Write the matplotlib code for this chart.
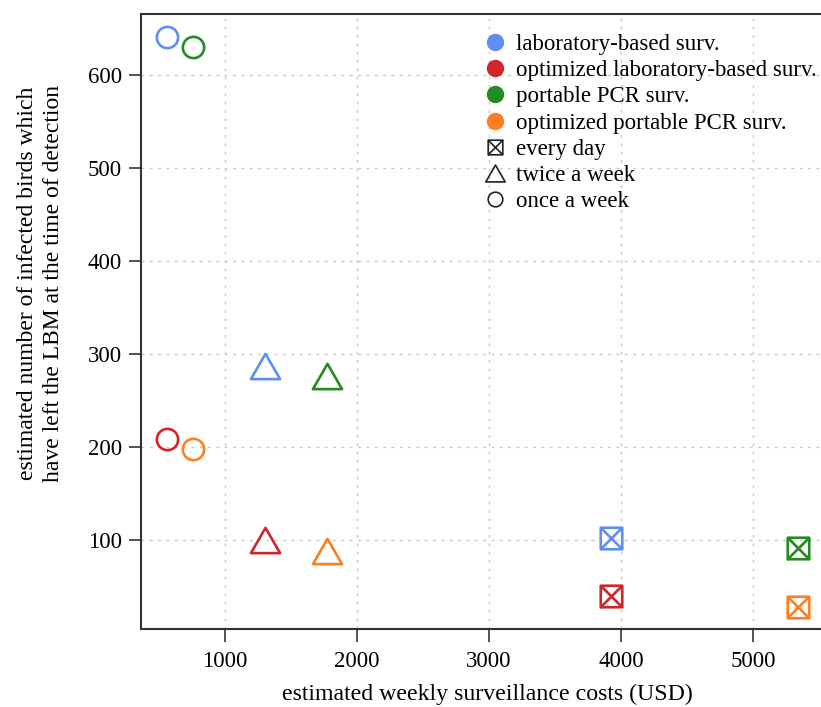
import matplotlib
matplotlib.use("Agg")
import matplotlib.pyplot as plt
from matplotlib.path import Path
from matplotlib.lines import Line2D

plt.rcParams['font.family'] = ['Liberation Serif', 'DejaVu Serif']

strategies = ["laboratory-based surv.", "optimized laboratory-based surv.",
              "portable PCR surv.", "optimized portable PCR surv."]
colors = ["#5f8fee", "#d0262b", "#228b22", "#ff7f1e"]
frequencies = ["every day", "twice a week", "once a week"]

# costs (USD) per strategy, order: every day, twice a week, once a week
costs = [
    [3925, 1305, 562],
    [3925, 1305, 562],
    [5335, 1775, 758],
    [5335, 1775, 758],
]
birds = [
    [102, 287, 641],
    [40, 100, 209],
    [91, 276, 630],
    [28, 88, 198],
]

box_x = Path([(-1, -1), (1, -1), (1, 1), (-1, 1), (-1, -1), (1, 1), (-1, 1), (1, -1)],
             [Path.MOVETO, Path.LINETO, Path.LINETO, Path.LINETO, Path.LINETO,
              Path.LINETO, Path.MOVETO, Path.LINETO])
tri = Path([(-1, -0.866), (1, -0.866), (0, 0.866), (-1, -0.866)],
           [Path.MOVETO, Path.LINETO, Path.LINETO, Path.CLOSEPOLY])
markers = [box_x, tri, "o"]
msizes = [15.5, 21, 15.3]

fig = plt.figure(figsize=(8.21, 7.07), dpi=100)
ax = fig.add_axes([0.1717, 0.1103, 0.836, 0.8700])

for i in range(4):
    for j in range(3):
        ax.plot(costs[i][j], birds[i][j], linestyle="none", marker=markers[j],
                markersize=msizes[j], markerfacecolor="none",
                markeredgecolor=colors[i], markeredgewidth=1.9, zorder=3)

ax.set_xlim(365, 5560)
ax.set_ylim(4, 666)
ax.set_xticks([1000, 2000, 3000, 4000, 5000])
ax.set_yticks([100, 200, 300, 400, 500, 600])
ax.grid(True, linestyle=(0, (2, 4)), color="#c8c8c8", linewidth=1.0)
ax.set_axisbelow(True)
for s in ax.spines.values():
    s.set_color("#333333")
    s.set_linewidth(1.5)
ax.tick_params(axis="both", direction="out", width=1.2, color="#333333",
               labelsize=16.5)
ax.tick_params(axis="x", length=9.5, pad=6)
ax.tick_params(axis="y", length=8.6, pad=5)

ax.set_xlabel("estimated weekly surveillance costs (USD)", fontsize=17.2, labelpad=9)
ax.set_ylabel("estimated number of infected birds which\nhave left the LBM at the time of detection",
              fontsize=17, labelpad=17, linespacing=1.35)
ax.xaxis.label.set_x(0.504)
ax.yaxis.label.set_y(0.562)

handles = []
labels = []
for i in range(4):
    handles.append(Line2D([], [], linestyle="none", marker="o", markersize=11.5,
                          markerfacecolor=colors[i], markeredgecolor=colors[i]))
    labels.append(strategies[i])
leg_sizes = [10.5, 14, 10.5]
for j in range(3):
    handles.append(Line2D([], [], linestyle="none", marker=markers[j], markersize=leg_sizes[j],
                          markerfacecolor="none", markeredgecolor="#222222", markeredgewidth=1.2))
    labels.append(frequencies[j])
ax.legend(handles, labels, loc="upper left", bbox_to_anchor=(486 / 821, 1 - 34 / 707),
          bbox_transform=fig.transFigure, frameon=False, borderaxespad=0, borderpad=0,
          fontsize=16.5, handlelength=0.8, handletextpad=0.5, labelspacing=0.225)

fig.savefig("out.png", dpi=100)
